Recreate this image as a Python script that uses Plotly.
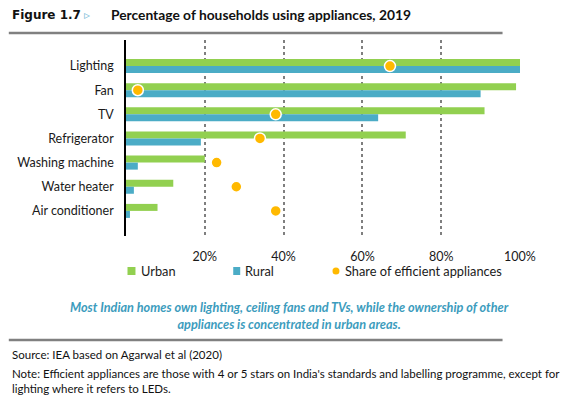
import plotly.graph_objects as go

categories = ["Lighting", "Fan", "TV", "Refrigerator", "Washing machine", "Water heater", "Air conditioner"]
urban = [100, 99, 91, 71, 20, 12, 8]
rural = [100, 90, 64, 19, 3, 2, 1]
efficient = [67, 3, 38, 34, 23, 28, 38]
tick_vals = [20, 40, 60, 80, 100]
tick_text = ["20%", "40%", "60%", "80%", "100%"]

GREEN = "#92D050"
BLUE = "#4BACC6"
GOLD = "#FFB900"

W, H = 573, 399
L, R, T, B = 125.5, 52.5, 40, 163
PW, PH = W - L - R, H - T - B


def px(xp):
    return (xp - L) / PW


def py(yp):
    return (H - B - yp) / PH


fig = go.Figure()
fig.add_trace(go.Bar(y=categories, x=urban, orientation="h", name="Urban",
                     marker=dict(color=GREEN, line=dict(width=0))))
fig.add_trace(go.Bar(y=categories, x=rural, orientation="h", name="Rural",
                     marker=dict(color=BLUE, line=dict(width=0))))
fig.add_trace(go.Scatter(y=categories, x=efficient, mode="markers", name="Share of efficient appliances",
                         marker=dict(color=GOLD, size=11, line=dict(color="white", width=1.5))))

shapes = []
annotations = []

# header rule and footer rule
shapes.append(dict(type="line", xref="paper", yref="paper", x0=px(8), x1=px(503), y0=py(33), y1=py(33),
                   line=dict(color="#808080", width=2.5)))
shapes.append(dict(type="line", xref="paper", yref="paper", x0=px(8), x1=px(503), y0=py(340), y1=py(340),
                   line=dict(color="#808080", width=2.5)))

# manual legend
shapes.append(dict(type="rect", xref="paper", yref="paper", x0=px(127), x1=px(135), y0=py(275), y1=py(267),
                   fillcolor=GREEN, line=dict(width=0)))
shapes.append(dict(type="rect", xref="paper", yref="paper", x0=px(233), x1=px(240), y0=py(275), y1=py(267),
                   fillcolor=BLUE, line=dict(width=0)))
shapes.append(dict(type="circle", xref="paper", yref="paper", x0=px(332.5), x1=px(339.5), y0=py(274.5), y1=py(267.5),
                   fillcolor=GOLD, line=dict(width=0)))
legend_font = dict(family="Lato", size=12.8, color="#1a1a1a")
for xp, txt in [(139, "Urban"), (243, "Rural"), (343, "Share of efficient appliances")]:
    annotations.append(dict(xref="paper", yref="paper", x=px(xp), y=py(271), xanchor="left", yanchor="middle",
                            text=txt, showarrow=False, font=legend_font))

# title
annotations.append(dict(xref="paper", yref="paper", x=px(9), y=py(15), xanchor="left", yanchor="middle",
                        text="<b>Figure 1.7</b>", showarrow=False,
                        font=dict(family="DejaVu Sans", size=12, color="#111111")))
annotations.append(dict(xref="paper", yref="paper", x=px(81), y=py(15), xanchor="left", yanchor="middle",
                        text="▹", showarrow=False,
                        font=dict(family="DejaVu Sans", size=12, color="#7FC0DA")))
annotations.append(dict(xref="paper", yref="paper", x=px(108), y=py(15), xanchor="left", yanchor="middle",
                        text="<b>Percentage of households using appliances, 2019</b>", showarrow=False,
                        font=dict(family="Lato", size=13.8, color="#111111")))

# caption
annotations.append(dict(xref="paper", yref="paper", x=px(289), y=py(315), xanchor="center", yanchor="middle",
                        text="<b><i>Most Indian homes own lighting, ceiling fans and TVs, while the ownership of other<br>appliances is concentrated in urban areas.</i></b>",
                        showarrow=False, align="center",
                        font=dict(family="Lato", size=12.7, color="#3C9CBD")))

# source / note
note_font = dict(family="Lato", size=11.5, color="#111111")
annotations.append(dict(xref="paper", yref="paper", x=px(9), y=py(354), xanchor="left", yanchor="middle",
                        text="Source: IEA based on Agarwal et al (2020)", showarrow=False, font=note_font))
annotations.append(dict(xref="paper", yref="paper", x=px(9), y=py(381), xanchor="left", yanchor="middle",
                        text="Note: Efficient appliances are those with 4 or 5 stars on India's standards and labelling programme, except for<br>lighting where it refers to LEDs.",
                        showarrow=False, align="left", font=note_font))

fig.update_layout(
    width=W, height=H,
    margin=dict(l=L, r=R, t=T, b=B, pad=0),
    paper_bgcolor="white", plot_bgcolor="white",
    barmode="group", bargap=0.42, bargroupgap=0,
    showlegend=False,
    shapes=shapes, annotations=annotations,
    xaxis=dict(range=[0, 100], tickvals=tick_vals, ticktext=tick_text, showgrid=True,
               gridcolor="#7f7f7f", griddash="dot", gridwidth=1.5, zeroline=False,
               showline=False, ticks="", ticklabelstandoff=11,
               tickfont=dict(family="Lato", size=12.5, color="#1a1a1a")),
    yaxis=dict(type="category", categoryorder="array", categoryarray=categories,
               range=[7.04, -1.08], showline=True, linecolor="black", linewidth=1.5,
               showgrid=False, ticks="", ticklabelstandoff=8,
               tickfont=dict(family="Lato", size=12.5, color="#1a1a1a")),
)

fig.write_html("out.html", config={"displayModeBar": False},
               post_script="document.body.style.margin='0';document.body.style.padding='0';")
